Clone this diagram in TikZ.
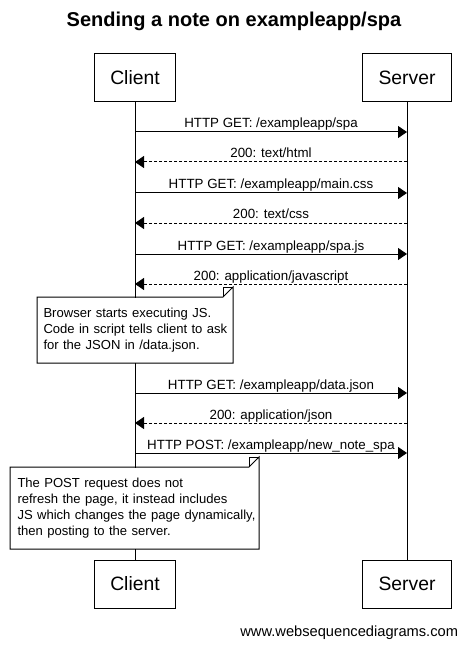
\documentclass[tikz,border=0pt]{standalone}
\usepackage{fontspec}
\setmainfont{Liberation Sans}
\usetikzlibrary{arrows.meta}

\newcommand\titlefont{\bfseries\fontsize{15}{18}\selectfont}
\newcommand\actorfont{\fontsize{14.5}{17}\selectfont}
\newcommand\msgfont{\fontsize{10}{12}\selectfont}
\newcommand\notefont{\fontsize{9.8}{12}\selectfont}
\newcommand\footfont{\fontsize{11}{13}\selectfont}

\tikzset{
  actor/.style={draw, inner xsep=12pt, minimum height=36pt, font=\actorfont},
  msg/.style={-{Triangle[length=6.75pt,width=9pt]}},
  reply/.style={msg, dash pattern=on 2.25pt off 1.5pt},
  msglabel/.style={midway, anchor=base, yshift=3pt, inner sep=0pt, font=\msgfont},
  notebox/.style={fill=white, anchor=north west, align=left, inner xsep=4.5pt, inner ysep=0pt, font=\notefont},
}

\begin{document}
\begin{tikzpicture}[x=0.75pt,y=0.75pt,yscale=-1,xscale=1,line width=0.75pt]
\useasboundingbox (0,0) rectangle (466,645);

% Title
\node[font=\titlefont, anchor=base] (title) at (234,27) {Sending a note on exampleapp/spa};

% Participants
\node[actor] (clienttop) at (135,78) {Client};
\node[actor] (servertop) at (407,78) {Server};
\node[actor] (clientbot) at (135,584) {Client};
\node[actor] (serverbot) at (407,584) {Server};

% Lifelines
\draw (clienttop.south) -- (clientbot.north);
\draw (servertop.south) -- (serverbot.north);

% Message ends
\coordinate (c1) at (135,132); \coordinate (s1) at (407,132);
\coordinate (c2) at (135,162); \coordinate (s2) at (407,162);
\coordinate (c3) at (135,193); \coordinate (s3) at (407,193);
\coordinate (c4) at (135,223); \coordinate (s4) at (407,223);
\coordinate (c5) at (135,254); \coordinate (s5) at (407,254);
\coordinate (c6) at (135,284); \coordinate (s6) at (407,284);
\coordinate (c7) at (135,393); \coordinate (s7) at (407,393);
\coordinate (c8) at (135,423); \coordinate (s8) at (407,423);
\coordinate (c9) at (135,453); \coordinate (s9) at (407,453);

% Messages
\draw[msg] (c1) -- node[msglabel] {HTTP GET: /exampleapp/spa} (s1);
\draw[reply] (s2) -- node[msglabel] {200: text/html} (c2);
\draw[msg] (c3) -- node[msglabel] {HTTP GET: /exampleapp/main.css} (s3);
\draw[reply] (s4) -- node[msglabel] {200: text/css} (c4);
\draw[msg] (c5) -- node[msglabel] {HTTP GET: /exampleapp/spa.js} (s5);
\draw[reply] (s6) -- node[msglabel] {200: application/javascript} (c6);
\draw[msg] (c7) -- node[msglabel] {HTTP GET: /exampleapp/data.json} (s7);
\draw[reply] (s8) -- node[msglabel] {200: application/json} (c8);
\draw[msg] (c9) -- node[msglabel] {HTTP POST: /exampleapp/new\_note\_spa} (s9);

% Note: browser runs the script
\node[notebox, text width=137.25pt, minimum width=146.25pt, minimum height=48.75pt] (note1) at (37,297)
  {Browser starts executing JS.\\\mbox{Code in script tells client to ask}\\for the JSON in /data.json.};
\draw (note1.north west) -- ([xshift=-7.5pt]note1.north east) -- ([yshift=-7.5pt]note1.north east)
  -- (note1.south east) -- (note1.south west) -- cycle;
\draw ([xshift=-7.5pt]note1.north east) |- ([yshift=-7.5pt]note1.north east);

% Note: what the POST does
\node[notebox, inner xsep=5.25pt, text width=175.5pt, minimum width=186pt, minimum height=60.75pt] (note2) at (10,467)
  {The POST request does not\\refresh the page, it instead includes\\\mbox{JS which changes the page dynamically,}\\then posting to the server.};
\draw (note2.north west) -- ([xshift=-7.5pt]note2.north east) -- ([yshift=-7.5pt]note2.north east)
  -- (note2.south east) -- (note2.south west) -- cycle;
\draw ([xshift=-7.5pt]note2.north east) |- ([yshift=-7.5pt]note2.north east);

% Footer
\node[anchor=base east, font=\footfont] (footer) at (463,636) {www.websequencediagrams.com};

\end{tikzpicture}
\end{document}
